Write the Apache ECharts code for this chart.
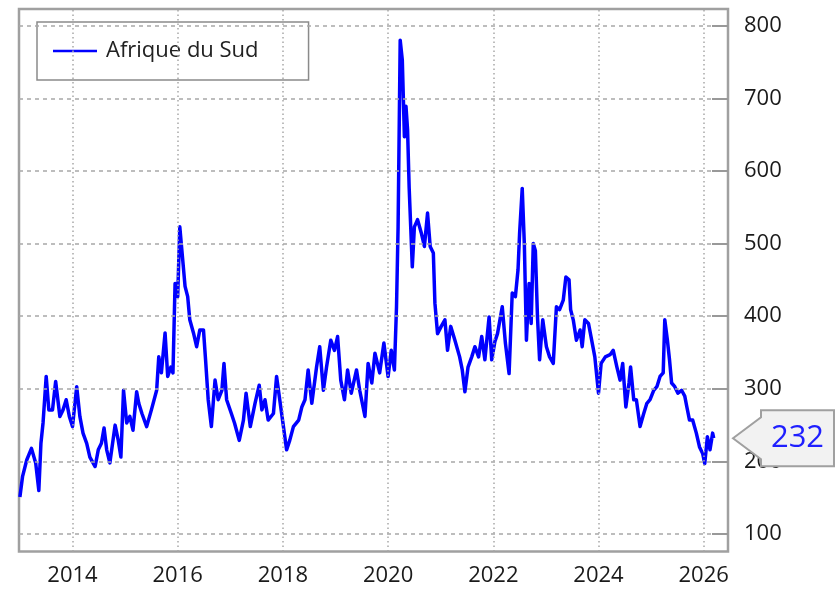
<!DOCTYPE html>
<html>
<head>
<meta charset="utf-8">
<script src="https://cdn.jsdelivr.net/npm/echarts@6/dist/echarts.min.js"></script>
<style>
html,body{margin:0;padding:0;background:#fff;}
#chart{width:837px;height:589px;}
</style>
</head>
<body>
<div id="chart"></div>
<script>
var seriesName = 'Afrique du Sud';
var years = [
2013.00,2013.05,2013.13,2013.22,2013.30,2013.36,2013.40,2013.44,2013.50,2013.55,2013.62,2013.68,2013.76,2013.82,2013.88,2013.94,
2014.00,2014.08,2014.14,2014.20,2014.27,2014.33,2014.43,2014.49,2014.55,2014.60,2014.65,2014.71,2014.81,2014.87,2014.92,2014.97,
2015.03,2015.09,2015.15,2015.22,2015.26,2015.32,2015.41,2015.50,2015.60,2015.64,2015.69,2015.76,2015.81,2015.87,2015.91,2015.95,
2016.00,2016.04,2016.09,2016.14,2016.19,2016.23,2016.30,2016.36,2016.42,2016.49,2016.53,2016.58,2016.64,2016.71,2016.77,2016.84,2016.88,2016.93,
2017.02,2017.08,2017.17,2017.25,2017.30,2017.38,2017.47,2017.55,2017.60,2017.66,2017.72,2017.82,2017.88,2017.94,
2018.01,2018.07,2018.13,2018.20,2018.30,2018.36,2018.42,2018.48,2018.55,2018.64,2018.70,2018.77,2018.83,2018.91,2018.98,
2019.04,2019.10,2019.17,2019.23,2019.30,2019.40,2019.46,2019.56,2019.62,2019.69,2019.75,2019.84,2019.92,
2020.00,2020.06,2020.12,2020.16,2020.19,2020.23,2020.27,2020.31,2020.34,2020.37,2020.40,2020.46,2020.50,2020.56,2020.63,2020.69,2020.75,2020.80,2020.86,2020.89,2020.94,
2021.01,2021.08,2021.13,2021.19,2021.27,2021.36,2021.41,2021.46,2021.52,2021.59,2021.65,2021.72,2021.78,2021.84,2021.92,2021.97,
2022.03,2022.08,2022.17,2022.23,2022.30,2022.36,2022.42,2022.47,2022.50,2022.55,2022.59,2022.63,2022.68,2022.72,2022.76,2022.80,2022.84,2022.88,2022.94,
2023.01,2023.07,2023.14,2023.20,2023.26,2023.33,2023.38,2023.44,2023.47,2023.52,2023.58,2023.65,2023.69,2023.74,2023.81,2023.87,2023.93,
2024.00,2024.05,2024.13,2024.22,2024.28,2024.35,2024.41,2024.46,2024.52,2024.58,2024.61,2024.67,2024.72,2024.79,2024.86,2024.92,2024.98,
2025.05,2025.11,2025.17,2025.23,2025.26,2025.31,2025.35,2025.39,2025.45,2025.51,2025.58,2025.64,2025.68,2025.73,2025.79,2025.86,2025.92,2025.98,
2026.02,2026.07,2026.12,2026.17,2026.19
];
var values = [
151,179,202,218,198,160,225,253,317,271,271,310,262,271,285,262,
248,303,262,239,225,206,193,216,225,246,216,198,250,229,206,298,
253,262,243,296,280,266,248,271,298,344,322,377,317,330,322,445,
427,523,482,441,427,395,377,358,381,381,340,285,248,312,285,298,335,285,
266,253,229,257,294,248,280,305,271,285,257,266,317,285,
248,216,229,248,257,275,285,326,280,330,358,298,330,367,353,
372,312,285,326,294,326,298,262,335,308,349,322,363,
317,353,326,413,523,780,753,647,689,657,578,468,523,533,515,496,542,496,487,418,376,
386,395,353,386,367,344,326,296,330,344,358,344,372,340,399,340,
365,376,413,363,321,432,427,464,514,576,500,367,445,390,500,490,399,340,395,
358,344,335,413,409,422,454,450,409,395,367,381,358,395,390,367,344,
294,335,344,347,353,330,312,335,275,308,330,285,285,248,266,280,285,
298,303,317,322,395,367,340,308,303,294,298,290,275,257,257,239,220,211,
197,234,216,239,232
];
var yTicks = [100,200,300,400,500,600,700,800];
var xTicks = [2014,2016,2018,2020,2022,2024,2026];

var data = years.map(function(y,i){return [y, values[i]];});
var lastValue = values[values.length-1];

var X_MIN = 2012.983, X_MAX = 2026.462;
var gridLines = [];
yTicks.forEach(function(v){
  gridLines.push({yAxis:v, lineStyle:{type:[4,4], color:'#a8a8a8', width:1.5}});
});
xTicks.forEach(function(v){
  gridLines.push({xAxis:v, lineStyle:{type:[1.5,3], color:'#a8a8a8', width:1.5}});
});

var chart = echarts.init(document.getElementById('chart'), null, {renderer:'canvas'});
var FONT = 'Open Sans';
chart.setOption({
  animation:false,
  backgroundColor:'#fff',
  grid:{left:19, right:109, top:9, bottom:37.5, show:true, borderColor:'#a0a0a0', borderWidth:2.5, backgroundColor:'transparent'},
  legend:{
    data:[{name:seriesName, icon:'rect'}],
    left:37, top:22,
    itemWidth:44, itemHeight:2.5,
    padding:[17,50,17,16],
    backgroundColor:'#fff', borderColor:'#8a8a8a', borderWidth:1.5,
    textStyle:{fontFamily:FONT, fontSize:22, color:'#222', padding:[0,0,0,4], lineHeight:24},
    selectedMode:false
  },
  xAxis:{
    type:'value', min:X_MIN, max:X_MAX,
    axisLine:{show:false}, axisTick:{show:false}, splitLine:{show:false},
    axisLabel:{customValues:xTicks, formatter:function(v){return String(v);}, fontFamily:FONT, fontSize:22, color:'#1a1a1a', margin:13}
  },
  yAxis:{
    type:'value', position:'right', min:76, max:823,
    axisLine:{show:false}, splitLine:{show:false},
    axisTick:{show:false},
    axisLabel:{customValues:yTicks, fontFamily:FONT, fontSize:22, color:'#1a1a1a', margin:16}
  },
  series:[
    {
      name:'grid', type:'line', data:[[2014,400],[2015,400]], z:1, silent:true,
      lineStyle:{opacity:0}, symbol:'none',
      markLine:{silent:true, symbol:['none','none'], label:{show:false}, data:gridLines, animation:false}
    },
    {
      name:'ticks', type:'line', data:[[2014,400],[2015,400]], z:2, silent:true,
      lineStyle:{opacity:0}, symbol:'none',
      markLine:{silent:true, symbol:['none','none'], label:{show:false}, animation:false,
        lineStyle:{type:'solid', color:'#999', width:2},
        data:yTicks.map(function(v){ return [{coord:[X_MAX-16/52.6, v]},{coord:[X_MAX, v]}]; })}
    },
    {
      name:seriesName, type:'line', data:data, z:3, symbol:'none',
      lineStyle:{color:'#0000ff', width:3.5, join:'round'}, itemStyle:{color:'#0000ff'}
    }
  ]
});

var ty = chart.convertToPixel({yAxisIndex:0}, lastValue);
var bx = 761, bw = 73, bh = 28, tipX = 733, pb = 21;
chart.setOption({
  graphic:[
    {
      type:'polygon', z:100,
      shape:{points:[[tipX,ty],[bx,ty-pb],[bx,ty-bh],[bx+bw,ty-bh],[bx+bw,ty+bh],[bx,ty+bh],[bx,ty+pb]]},
      style:{fill:'#f2f2f2', stroke:'#a0a0a0', lineWidth:2}
    },
    {
      type:'text', z:101, x:bx+bw/2, y:ty,
      style:{text:String(lastValue), fill:'#1f1fff', font:'31px "Open Sans"', align:'center', verticalAlign:'middle'}
    }
  ]
});
</script>
</body>
</html>
